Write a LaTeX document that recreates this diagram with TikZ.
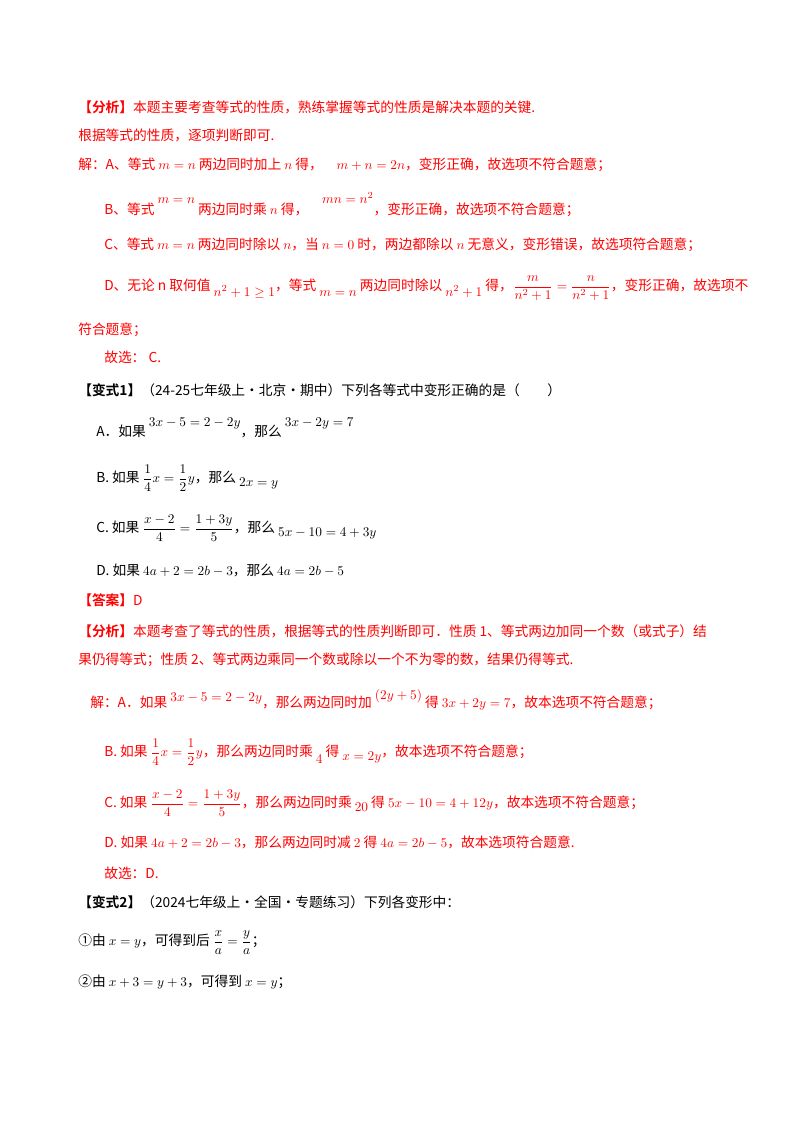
\documentclass[tikz,border=0pt]{standalone}
\usepackage[no-math]{fontspec}
\usepackage{amsmath}
\setmainfont{Noto Sans CJK SC}[BoldFont={Noto Sans CJK SC Bold}]
\begin{document}
\begin{tikzpicture}[x=0.75pt,y=-0.75pt,
  t/.style={anchor=west,inner sep=0pt,font=\fontsize{10.3pt}{12pt}\selectfont},
  r/.style={t,text=red}]
\useasboundingbox (0,0) rectangle (800,1132);
\node[r] (l1) at (78,107) {\textbf{【分析】}本题主要考查等式的性质，熟练掌握等式的性质是解决本题的关键.};
\node[r] (l2) at (78,135) {根据等式的性质，逐项判断即可.};
\node[r] (l3) at (78,165) {解：A、等式 \(m=n\) 两边同时加上 \(n\) 得，\quad \(m+n=2n\)，变形正确，故选项不符合题意；};
\node[r] (l4) at (104,205) {B、等式 \(\raisebox{1.5ex}{$m=n$}\) 两边同时乘 \(n\) 得，\quad \(\raisebox{1.5ex}{$mn=n^2$}\)，变形正确，故选项不符合题意；};
\node[r] (l5) at (104,245) {C、等式 \(m=n\) 两边同时除以 \(n\)，当 \(n=0\) 时，两边都除以 \(n\) 无意义，变形错误，故选项符合题意；};
\node[r] (l6) at (104,288) {D、无论 n 取何值 \(\raisebox{-0.8ex}{$n^2+1\ge1$}\)，等式 \(\raisebox{-0.8ex}{$m=n$}\) 两边同时除以 \(\raisebox{-0.8ex}{$n^2+1$}\) 得，\(\dfrac{m}{n^2+1}=\dfrac{n}{n^2+1}\)，变形正确，故选项不};
\node[r] (l7) at (78,330) {符合题意；};
\node[r] (l8) at (104,357) {故选：\ C.};
\node[t] (b1) at (78,390) {\textbf{【变式1】}（24-25七年级上·北京·期中）下列各等式中变形正确的是（\qquad）};
\node[t] (a) at (96,428) {A．如果 \(\raisebox{1.4ex}{$3x-5=2-2y$}\)，那么 \(\raisebox{1.4ex}{$3x-2y=7$}\)};
\node[t] (b) at (96,478) {B. 如果 \(\dfrac14x=\dfrac12y\)，那么 \(\raisebox{-0.6ex}{$2x=y$}\)};
\node[t] (c) at (96,528) {C. 如果 \(\dfrac{x-2}{4}=\dfrac{1+3y}{5}\)，那么 \(\raisebox{-0.6ex}{$5x-10=4+3y$}\)};
\node[t] (d) at (96,570) {D. 如果 \(4a+2=2b-3\)，那么 \(4a=2b-5\)};
\node[r] (ans) at (78,600) {\textbf{【答案】}D};
\node[r] (f1) at (78,631) {\textbf{【分析】}本题考查了等式的性质，根据等式的性质判断即可．性质 1、等式两边加同一个数（或式子）结};
\node[r] (f2) at (78,660) {果仍得等式；性质 2、等式两边乘同一个数或除以一个不为零的数，结果仍得等式.};
\node[r] (s1) at (90,700) {解：A．如果 \(\raisebox{0.8ex}{$3x-5=2-2y$}\)，那么两边同时加 \(\raisebox{1ex}{$(2y+5)$}\) 得 \(3x+2y=7\)，故本选项不符合题意；};
\node[r] (s2) at (104,752) {B. 如果 \(\dfrac14x=\dfrac12y\)，那么两边同时乘 \(\raisebox{-1ex}{$4$}\) 得 \(\raisebox{-0.6ex}{$x=2y$}\)，故本选项不符合题意；};
\node[r] (s3) at (104,803) {C. 如果 \(\dfrac{x-2}{4}=\dfrac{1+3y}{5}\)，那么两边同时乘 \(\raisebox{-0.6ex}{$20$}\) 得 \(5x-10=4+12y\)，故本选项不符合题意；};
\node[r] (s4) at (104,842) {D. 如果 \(4a+2=2b-3\)，那么两边同时减 \(2\) 得 \(4a=2b-5\)，故本选项符合题意.};
\node[r] (s5) at (104,873) {故选：D.};
\node[t] (b2) at (78,902) {\textbf{【变式2】}（2024七年级上·全国·专题练习）下列各变形中：};
\node[t] (e1) at (78,943) {①由 \(x=y\)，可得到后 \(\dfrac{x}{a}=\dfrac{y}{a}\)；};
\node[t] (e2) at (78,982) {②由 \(x+3=y+3\)，可得到 \(x=y\)；};
\end{tikzpicture}
\end{document}
